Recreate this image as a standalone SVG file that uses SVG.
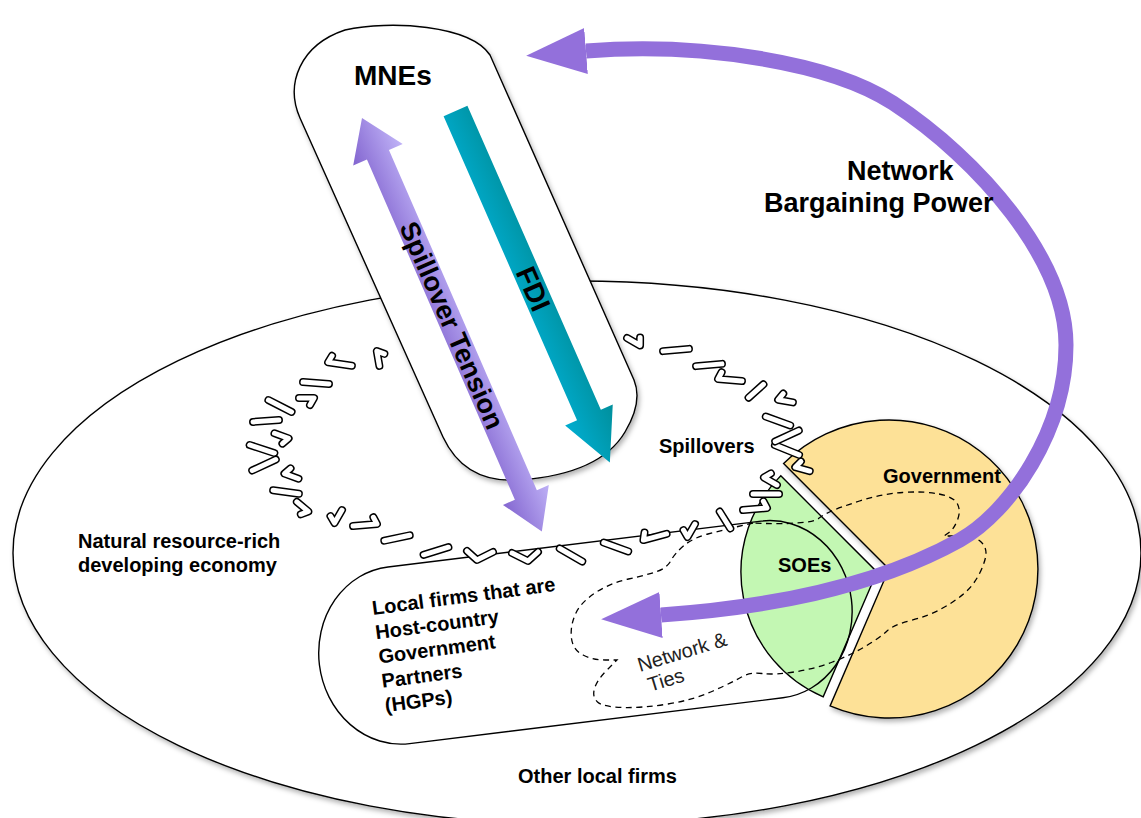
<svg xmlns="http://www.w3.org/2000/svg" width="1141" height="818" viewBox="0 0 1141 818">
<style>
.lbl{font-family:"Liberation Sans",Arial,Helvetica,sans-serif;font-weight:bold;fill:#000}
.thin{font-family:"Liberation Sans",Arial,Helvetica,sans-serif;font-weight:normal;fill:#222}
.outl{fill:none;stroke:#000;stroke-width:1.4}
.mo{fill:none;stroke:#000;stroke-width:8;stroke-linecap:round;stroke-linejoin:round}
.mi{fill:none;stroke:#fff;stroke-width:5;stroke-linecap:round;stroke-linejoin:round}
.dash{fill:none;stroke:#000;stroke-width:1.3;stroke-dasharray:6 4.5}
.nbp{fill:none;stroke:#9370DB;stroke-width:15}
</style>
<defs>
<filter id="shadow" x="-10%" y="-10%" width="120%" height="125%">
<feDropShadow dx="2" dy="3" stdDeviation="2.5" flood-color="#000" flood-opacity="0.3"/>
</filter>
<linearGradient id="gST" x1="0" y1="1" x2="0" y2="0">
<stop offset="0" stop-color="#8264cf"/>
<stop offset="1" stop-color="#c0b3f7"/>
</linearGradient>
<linearGradient id="gFDI" x1="0" y1="1" x2="0" y2="0">
<stop offset="0" stop-color="#00add0"/>
<stop offset="1" stop-color="#008f9c"/>
</linearGradient>
<marker id="headP" viewBox="0 -24 60 48" refX="0" refY="0" markerWidth="60" markerHeight="48" markerUnits="userSpaceOnUse" orient="auto-start-reverse">
<path d="M0,-23 L60,0 L0,23 Z" fill="#9370DB"/>
</marker>
<g id="bar"><path class="mo" d="M-13 0H13"/><path class="mi" d="M-13 0H13"/></g>
<g id="bs"><path class="mo" d="M-10 0H10"/><path class="mi" d="M-10 0H10"/></g>
<g id="hk"><path class="mo" d="M-9 -7L-12 0H12"/><path class="mi" d="M-9 -7L-12 0H12"/></g>
<g id="sk"><path class="mo" d="M-3 -7L-7 0H8"/><path class="mi" d="M-3 -7L-7 0H8"/></g>
<g id="chk"><path class="mo" d="M-13 -5L-3 4L13 -4"/><path class="mi" d="M-13 -5L-3 4L13 -4"/></g>
</defs>

<g id="economy">
<ellipse cx="577" cy="553" rx="564" ry="272" fill="#fff" stroke="#000" stroke-width="1.4" filter="url(#shadow)"/>
<text class="lbl" font-size="20" x="78" y="548">Natural resource-rich</text>
<text class="lbl" font-size="20" x="78" y="572">developing economy</text>
<text class="lbl" font-size="20" x="518" y="783">Other local firms</text>
</g>

<g id="government">
<path d="M889,569 L783.6,463.6 A149,149 0 1 1 830.1,705.9 Z" fill="#FDE197" stroke="#000" stroke-width="1.4" filter="url(#shadow)"/>
<text class="lbl" font-size="20" x="883" y="483">Government</text>
</g>

<g id="soes">
<path d="M877,572 L823.2,696.9 A136,136 0 0 1 780.8,475.8 Z" fill="#C3F7B3" stroke="#000" stroke-width="1.4"/>
<text class="lbl" font-size="20" x="778" y="572">SOEs</text>
</g>

<g id="hgps">
<rect transform="rotate(-7)" x="236" y="610" width="536" height="178" rx="80" ry="89" class="outl"/>
<g transform="translate(373,615) rotate(-7.5)">
<text class="lbl" font-size="20" x="0" y="0">Local firms that are</text>
<text class="lbl" font-size="20" x="0" y="24.5">Host-country</text>
<text class="lbl" font-size="20" x="0" y="49">Government</text>
<text class="lbl" font-size="20" x="0" y="73.5">Partners</text>
<text class="lbl" font-size="20" x="0" y="98">(HGPs)</text>
</g>
</g>

<g id="network-ties">
<path class="dash" d="M753,523 L738,526.5 Q723,530 708,534 Q693,538 684,545.5 Q675,553 671,560.5 Q667,568 657,571.5 Q647,575 628.5,579 Q610,583 595,593 Q580,603 575,615 Q570,627 571.5,638.5 Q573,650 583,655 Q593,660 605,660 L617,660 L607,670 Q597,680 594.5,688.5 Q592,697 597.5,702 Q603,707 623,707.5 Q643,708 668,704 Q693,700 713,691 Q733,682 741.5,677 Q750,672 762,673.5 Q774,675 794,672 Q814,669 832.5,662 Q851,655 866,646 Q881,637 887,631 Q893,625 910.5,620.5 Q928,616 941,609 Q954,602 964,593.5 Q974,585 980,572.5 Q986,560 986,553 Q986,546 980,541 Q974,536 959,536 L944,536 L949,532.5 Q954,529 957.5,520 Q961,511 957.5,504 Q954,497 939,494 Q924,491 902.5,492.5 Q881,494 859.5,501 Q838,508 830.5,511.5 Q823,515 818.5,518.5 Q814,522 797,523 Q780,524 766.5,523.5 L753,523 Z"/>
<g transform="translate(640,672) rotate(-17)">
<text class="thin" font-size="20" x="0" y="0">Network &amp;</text>
<text class="thin" font-size="20" x="4" y="22">Ties</text>
</g>
</g>

<g id="spillovers">
<use href="#sk" transform="translate(378,358) rotate(80)"/>
<use href="#hk" transform="translate(340,364) rotate(8)"/>
<use href="#bar" transform="translate(316,383) rotate(4)"/>
<use href="#sk" transform="translate(307,398) rotate(180)"/>
<use href="#bar" transform="translate(280,406) rotate(27)"/>
<use href="#bar" transform="translate(266,421) rotate(-4)"/>
<use href="#sk" transform="translate(282,436) rotate(200)"/>
<use href="#bar" transform="translate(262,449) rotate(18)"/>
<use href="#bar" transform="translate(264,465) rotate(-25)"/>
<use href="#sk" transform="translate(291,476) rotate(20)"/>
<use href="#bar" transform="translate(286,492) rotate(8)"/>
<use href="#sk" transform="translate(303,507) rotate(220)"/>
<use href="#sk" transform="translate(338,517) rotate(-60)"/>
<use href="#hk" transform="translate(365,525) rotate(-5) scale(-1,1)"/>
<use href="#bar" transform="translate(397,538) rotate(-12)"/>
<use href="#bar" transform="translate(436,551) rotate(-17)"/>
<use href="#chk" transform="translate(480,556)"/>
<use href="#chk" transform="translate(525,557) scale(-1,1)"/>
<use href="#bar" transform="translate(571,555) rotate(30)"/>
<use href="#bar" transform="translate(616,547) rotate(20)"/>
<use href="#hk" transform="translate(655,537) rotate(-15)"/>
<use href="#sk" transform="translate(691,531) rotate(-60)"/>
<use href="#bs" transform="translate(725,520) rotate(58)"/>
<use href="#hk" transform="translate(755,509) rotate(-5) scale(-1,1)"/>
<use href="#bar" transform="translate(766,494) rotate(0)"/>
<use href="#sk" transform="translate(770,481) rotate(30)"/>
<use href="#sk" transform="translate(802,469) rotate(15)"/>
<use href="#bar" transform="translate(787,450) rotate(22)"/>
<use href="#bar" transform="translate(787,436) rotate(-25)"/>
<use href="#bar" transform="translate(778,421) rotate(20)"/>
<use href="#sk" transform="translate(785,401) rotate(10)"/>
<use href="#bs" transform="translate(756,391) rotate(-42)"/>
<use href="#hk" transform="translate(730,380) rotate(5)"/>
<use href="#bar" transform="translate(709,365) rotate(-5)"/>
<use href="#bar" transform="translate(676,350) rotate(-5)"/>
<use href="#sk" transform="translate(634,342) rotate(30) scale(-1,1)"/>
<text class="lbl" font-size="20" x="659" y="453">Spillovers</text>
</g>

<g id="mnes">
<path d="M300,118 C285,84 300,45 345,30 C390,20 470,25 490,55 L634,380 Q643,402 625,432 Q600,474 520,480 Q465,484 443,437 Z" fill="#fff" stroke="#000" stroke-width="1.4" filter="url(#shadow)"/>
<text class="lbl" font-size="28" x="354" y="85">MNEs</text>
</g>

<g id="connectors">
<g id="spillover-tension" transform="translate(362,118) rotate(66.5)">
<polygon points="0,0 40,-27 40,-12 411,-12 411,-25 451,0 411,25 411,12 40,12 40,27" fill="url(#gST)"/>
<text class="lbl" font-size="27" x="226" y="9.5" text-anchor="middle">Spillover Tension</text>
</g>
<g id="fdi" transform="translate(455.5,111) rotate(66.3)">
<polygon points="0,-13 332,-13 332,-26 384,0 332,26 332,13 0,13" fill="url(#gFDI)"/>
<text class="lbl" font-size="28" x="194" y="10" text-anchor="middle">FDI</text>
</g>
<g id="network-bargaining-power">
<path class="nbp" d="M661,615 C760,608 870,590 960,540 C1010,512 1066,430 1066,345 C1066,260 980,160 893,103 C830,62 700,42 586,51" marker-start="url(#headP)" marker-end="url(#headP)"/>
<text class="lbl" font-size="27" x="847" y="180">Network</text>
<text class="lbl" font-size="27" x="764" y="212">Bargaining Power</text>
</g>
</g>
</svg>
